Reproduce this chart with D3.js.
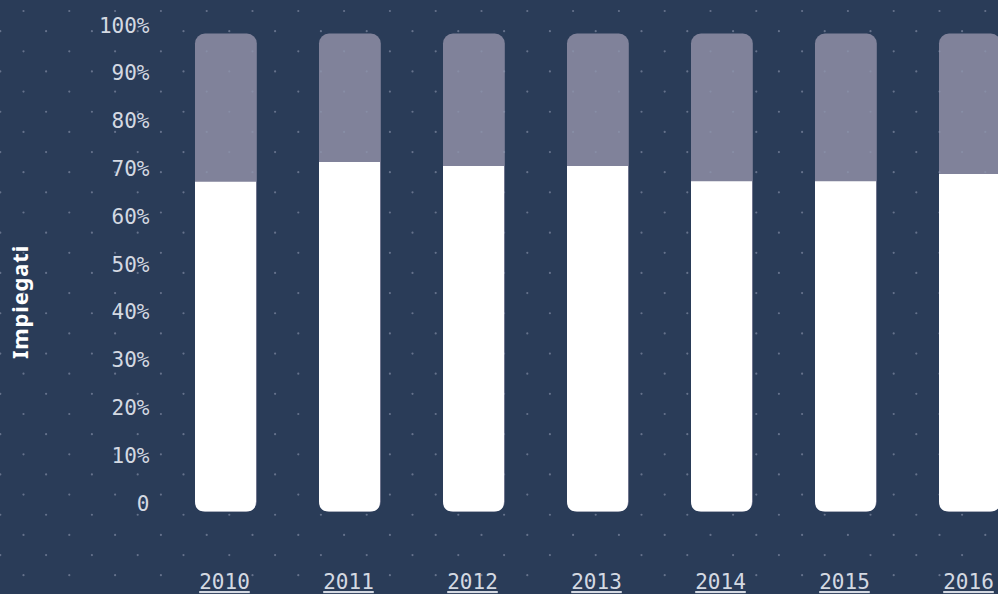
<!DOCTYPE html>
<meta charset="utf-8">
<html>

<head>
    <script src="https://d3js.org/d3.v7.min.js"></script>
    <style>
        body {
            margin: 0;
            background-color: #2a3c58;
        }

        svg {
            display: block;
        }

        .tick-label, .year-label {
            font-family: "DejaVu Sans Mono", monospace;
            font-size: 21px;
            fill: #d4d9e2;
        }
    </style>
</head>

<body>
    <div id="chart"></div>

    <script>
        // data
        var years = ["2010", "2011", "2012", "2013", "2014", "2015", "2016"];
        var impiegati = [0.690, 0.731, 0.723, 0.723, 0.691, 0.691, 0.706];
        var yTicks = [0, 0.1, 0.2, 0.3, 0.4, 0.5, 0.6, 0.7, 0.8, 0.9, 1];
        var yTickLabels = ["0", "10%", "20%", "30%", "40%", "50%", "60%", "70%", "80%", "90%", "100%"];

        var width = 998,
            height = 594;

        var svg = d3.select("#chart")
            .append("svg")
            .attr("width", width)
            .attr("height", height);

        svg.append("rect")
            .attr("width", width)
            .attr("height", height)
            .attr("fill", "#2a3c58");

        // scales
        var x = d3.scaleBand()
            .domain(years)
            .range([195, 1000])
            .paddingInner(63 / 124)
            .paddingOuter(0);

        var y = d3.scaleLinear()
            .domain([0, 1])
            .range([511.5, 33.5]);

        var bw = x.bandwidth();
        var r = 10;

        // grey "rest" bars (full height, rounded on all corners)
        svg.append("g")
            .selectAll("rect")
            .data(years)
            .enter()
            .append("rect")
            .attr("x", function (d) { return x(d); })
            .attr("y", y(1))
            .attr("width", bw + 0.8)
            .attr("height", y(0) - y(1))
            .attr("rx", r)
            .attr("fill", "#80829a");

        // dotted background pattern (drawn over grey, hidden by white)
        var dots = svg.append("g").attr("fill", "#8d96ae").attr("opacity", 0.6);
        var dx = 45.8, dyRow = 20.15;
        for (var row = 0; row * dyRow + 11 < height; row++) {
            var yy = 11 + row * dyRow;
            var off = row % 2 === 0 ? 23.5 : 0.3;
            for (var xx = off; xx < width + 2; xx += dx) {
                dots.append("circle")
                    .attr("cx", xx)
                    .attr("cy", yy)
                    .attr("r", 1.1);
            }
        }

        // white bars, rounded at the bottom only
        function bottomRounded(x0, y0, w, h, rad) {
            return "M" + x0 + "," + y0 +
                "H" + (x0 + w) +
                "V" + (y0 + h - rad) +
                "Q" + (x0 + w) + "," + (y0 + h) + " " + (x0 + w - rad) + "," + (y0 + h) +
                "H" + (x0 + rad) +
                "Q" + x0 + "," + (y0 + h) + " " + x0 + "," + (y0 + h - rad) +
                "Z";
        }

        svg.append("g")
            .selectAll("path")
            .data(years)
            .enter()
            .append("path")
            .attr("d", function (d, i) {
                var v = impiegati[i];
                return bottomRounded(x(d), y(v), bw, y(0) - y(v), r);
            })
            .attr("fill", "#ffffff");

        // y tick labels (baseline on the value)
        svg.append("g")
            .selectAll("text")
            .data(yTicks)
            .enter()
            .append("text")
            .attr("class", "tick-label")
            .attr("x", 149.5)
            .attr("y", function (d) { return y(d) - 1; })
            .attr("text-anchor", "end")
            .text(function (d, i) { return yTickLabels[i]; });

        // x labels, underlined
        svg.append("g")
            .selectAll("text")
            .data(years)
            .enter()
            .append("text")
            .attr("class", "year-label")
            .attr("x", function (d) { return x(d) + bw / 2 - 1; })
            .attr("y", 589)
            .attr("text-anchor", "middle")
            .style("text-decoration", "underline")
            .text(function (d) { return d; });

        // y axis title
        svg.append("text")
            .attr("transform", "translate(28,302) rotate(-90)")
            .attr("text-anchor", "middle")
            .style("font-family", "'Noto Sans', sans-serif")
            .style("font-weight", "bold")
            .style("font-size", "22px")
            .style("letter-spacing", "0.8px")
            .attr("fill", "#ffffff")
            .text("Impiegati");
    </script>
</body>

</html>
